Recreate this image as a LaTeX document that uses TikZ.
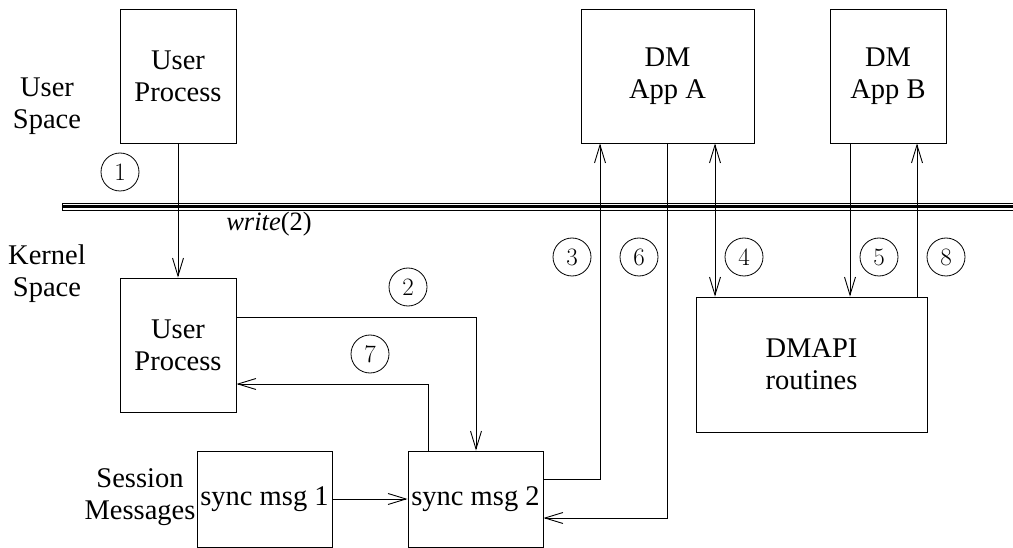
\documentclass[tikz,border=0pt]{standalone}
\usepackage{fontspec}
\setmainfont{Liberation Serif}
\newfontfamily\lmfont{Latin Modern Roman}
\usetikzlibrary{arrows.meta,calc}
\begin{document}
\begin{tikzpicture}[x=1pt,y=-1pt,
  box/.style={draw, line width=0.9pt, inner sep=0pt, align=center, font=\fontsize{28.5}{32}\selectfont},
  lbl/.style={align=center, inner sep=0pt, font=\fontsize{28.5}{32}\selectfont},
  num/.style={draw, circle, line width=0.8pt, minimum size=38pt, inner sep=0pt, font=\lmfont\fontsize{25}{25}\selectfont},
  con/.style={line width=0.9pt},
  arr/.style={con, -{Straight Barb[length=18pt,width=11pt]}},
  darr/.style={con, {Straight Barb[length=18pt,width=11pt]}-{Straight Barb[length=18pt,width=11pt]}}]
\useasboundingbox (0,0) rectangle (1013,548);
% boundary between user and kernel space
\draw[line width=0.7pt] (1020,203) -- (62,203) -- (62,210) -- (1020,210);
\draw[line width=2.4pt] (62,206.5) -- (1020,206.5);
% boxes
\node[box, minimum width=116pt, minimum height=134pt] (up) at (178,76) {User\\Process};
\node[box, minimum width=116pt, minimum height=134pt] (kup) at (178,345) {User\\Process};
\node[box, minimum width=173pt, minimum height=134pt] (dma) at (667.5,76) {DM\\App A};
\node[box, minimum width=116pt, minimum height=134pt] (dmb) at (888,76) {DM\\App B};
\node[box, minimum width=231pt, minimum height=135pt] (dmapi) at (811.5,364.5) {DMAPI\\routines};
\node[box, minimum width=135pt, minimum height=96pt] (s1) at (264.5,499) {sync msg 1};
\node[box, minimum width=135pt, minimum height=96pt] (s2) at (475.5,499) {sync msg 2};
% labels
\node[lbl] (us) at (47,106) {User\\Space};
\node[lbl] (ks) at (47,274) {Kernel\\Space};
\node[lbl] (sm) at (140,497) {Session\\Messages};
\node[inner sep=0pt, font=\fontsize{26.5}{30}\selectfont] (wr) at (269,224) {\textit{write}(2)};
% connectors
\draw[arr] (up.south) -- (kup.north);
\coordinate (c2) at (476,317);
\draw[arr] (kup.east |- c2) -- (c2) -- (s2.north -| c2);
\coordinate (c7) at (428,384);
\draw[arr] (s2.north -| c7) -- (c7) -- (kup.east |- c7);
\draw[arr] (s1.east) -- (s2.west);
\coordinate (c3) at (600,479);
\draw[arr] (s2.east |- c3) -- (c3) -- (dma.south -| c3);
\coordinate (c6) at (667,518);
\draw[arr] (dma.south -| c6) -- (c6) -- (s2.east |- c6);
\coordinate (c4) at (715,0);
\draw[darr] (dma.south -| c4) -- (dmapi.north -| c4);
\coordinate (c5) at (850,0);
\draw[arr] (dmb.south -| c5) -- (dmapi.north -| c5);
\coordinate (c8) at (917,0);
\draw[arr] (dmapi.north -| c8) -- (dmb.south -| c8);
% step numbers
\node[num] (n1) at (120,172) {1};
\node[num] (n2) at (408,287) {2};
\node[num] (n7) at (370,354) {7};
\node[num] (n3) at (572,257) {3};
\node[num] (n6) at (639,257) {6};
\node[num] (n4) at (744,257) {4};
\node[num] (n5) at (879,257) {5};
\node[num] (n8) at (946,257) {8};
\end{tikzpicture}
\end{document}
